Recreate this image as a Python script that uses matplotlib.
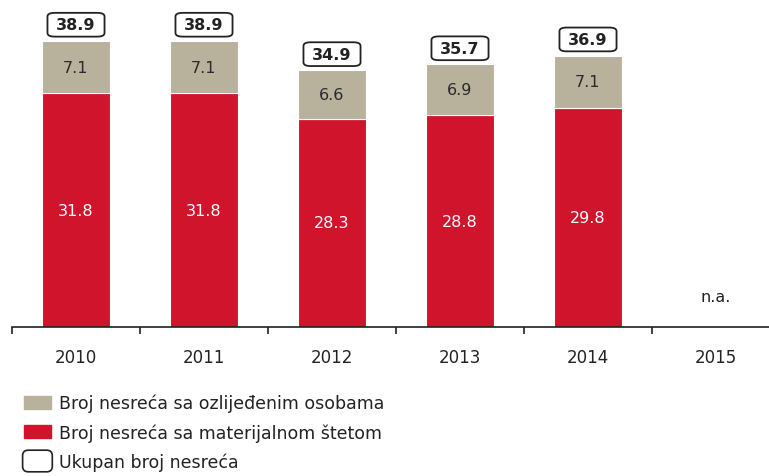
import matplotlib.pyplot as plt
import numpy as np
from matplotlib.patches import FancyBboxPatch, Patch
from matplotlib.legend_handler import HandlerPatch

plt.rcParams['font.family'] = ['DejaVu Sans']

years = ['2010', '2011', '2012', '2013', '2014', '2015']
materijalna = [31.8, 31.8, 28.3, 28.8, 29.8, None]
ozlijedeni = [7.1, 7.1, 6.6, 6.9, 7.1, None]
ukupno = [38.9, 38.9, 34.9, 35.7, 36.9, None]

RED = '#d0142c'
TAN = '#b8b29c'
INK = '#222222'

fig = plt.figure(figsize=(7.69, 4.77), dpi=100)
ax = fig.add_axes([12 / 769, 149 / 477, 768 / 769, 328 / 477])

x = np.arange(len(years))
w = 0.53
for i, y in enumerate(years):
    if materijalna[i] is None:
        ax.text(i, 4.2, 'n.a.', ha='center', va='center', fontsize=11.5, color=INK)
        continue
    ax.bar(i, materijalna[i], w, color=RED, edgecolor='white', linewidth=0.8)
    ax.bar(i, ozlijedeni[i], w, bottom=materijalna[i], color=TAN,
           edgecolor='white', linewidth=0.8)
    ax.text(i, materijalna[i] / 2, f'{materijalna[i]:.1f}', ha='center', va='center',
            color='white', fontsize=11.5)
    ax.text(i, materijalna[i] + ozlijedeni[i] / 2, f'{ozlijedeni[i]:.1f}', ha='center',
            va='center', color='#2a2a2a', fontsize=11.5)
    # ukupno u zaobljenom okviru iznad stupca
    ax.text(i, ukupno[i] + 2.2, f'{ukupno[i]:.1f}', ha='center', va='center',
            color=INK, fontsize=11.5, fontweight='bold',
            bbox=dict(boxstyle='round,pad=0.55,rounding_size=0.45', fc='white',
                      ec=INK, lw=1.3, mutation_aspect=0.5))

ax.set_xlim(-0.5, 5.5)
ax.set_ylim(0, 44.6)
ax.set_xticks(x)
ax.set_xticklabels(years, fontsize=12, color=INK)
ax.set_xticks(np.arange(-0.5, 5.5, 1), minor=True)
ax.tick_params(axis='x', which='major', length=0, pad=15)
ax.tick_params(axis='x', which='minor', length=5, width=1.2, color=INK)
ax.set_yticks([])
for s in ['top', 'right', 'left']:
    ax.spines[s].set_visible(False)
ax.spines['bottom'].set_linewidth(1.2)
ax.spines['bottom'].set_color(INK)


class RoundHandler(HandlerPatch):
    def create_artists(self, legend, orig_handle, xdescent, ydescent, width, height,
                       fontsize, trans):
        p = FancyBboxPatch((-xdescent - 1, -ydescent - 3), width + 2, height + 6,
                           boxstyle='round,pad=0,rounding_size=4', fc='white',
                           ec=INK, lw=1.2, transform=trans)
        return [p]


total_handle = Patch(fc='white', ec=INK)
handles = [Patch(color=TAN), Patch(color=RED), total_handle]
labels = ['Broj nesreća sa ozlijeđenim osobama', 'Broj nesreća sa materijalnom štetom',
          'Ukupan broj nesreća']
fig.legend(handles, labels, loc='upper left', bbox_to_anchor=(24 / 769, 1 - 395 / 477),
           frameon=False, fontsize=12.5, handlelength=1.55, handleheight=0.8,
           handletextpad=0.45, labelspacing=0.62, borderpad=0, borderaxespad=0,
           labelcolor=INK, handler_map={total_handle: RoundHandler()})

fig.savefig('out.png', dpi=100)
